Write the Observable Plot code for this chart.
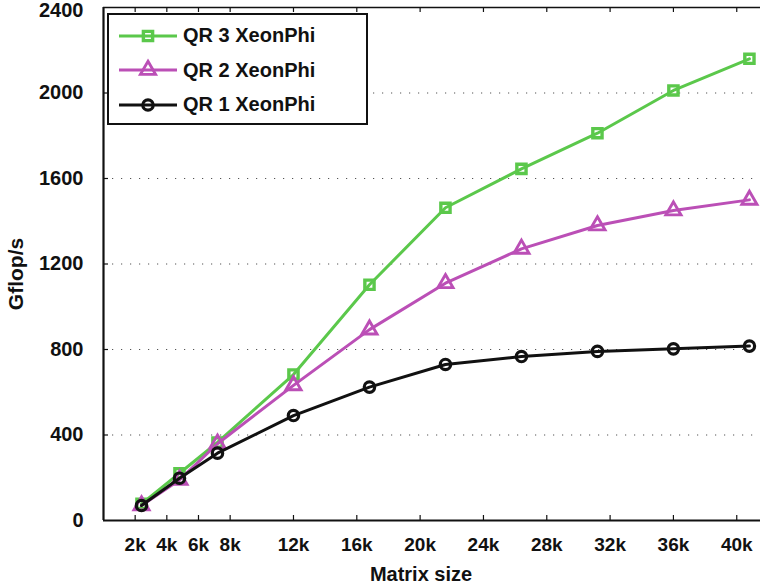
<!DOCTYPE html>
<html><head><meta charset="utf-8">
<script src="https://cdn.jsdelivr.net/npm/d3@7"></script>
<script src="https://cdn.jsdelivr.net/npm/@observablehq/plot@0.6"></script>
<style>
body{margin:0;background:#fff;}
#wrap{position:relative;width:760px;height:586px;font-family:"Liberation Sans",Arial,Helvetica,sans-serif;}
#legend{position:absolute;left:107px;top:13px;width:257px;height:108px;border:2px solid #111;background:#fff;}
.row{position:absolute;left:0;height:30px;display:flex;align-items:center;}
.row svg{display:block;margin-left:10px;}
.row span{font-size:20px;font-weight:bold;color:#111;margin-left:6px;white-space:nowrap;}
</style></head><body><div id="wrap"></div>
<script>
// ---- data ----
const sizes = [2400, 4800, 7200, 12000, 16800, 21600, 26400, 31200, 36000, 40800];
const qr3 = [78, 221, 365, 683, 1103, 1463, 1645, 1812, 2012, 2160];
const qr2 = [70, 190, 359, 632, 893, 1110, 1271, 1380, 1450, 1500];
const qr1 = [70, 198, 315, 491, 624, 730, 767, 791, 803, 816];
const seriesNames = ["QR 3 XeonPhi", "QR 2 XeonPhi", "QR 1 XeonPhi"];
const xTicks = [2000, 4000, 6000, 8000, 12000, 16000, 20000, 24000, 28000, 32000, 36000, 40000];
const xTickLabels = ["2k", "4k", "6k", "8k", "12k", "16k", "20k", "24k", "28k", "32k", "36k", "40k"];
const yTicks = [0, 400, 800, 1200, 1600, 2000];
const yTopTick = [2400];
const gridVals = [400, 800, 1200, 1600, 2000];

const seriesValues = [qr3, qr2, qr1];
const colors = ["#5bc84b", "#bb4fb6", "#111111"];
const symbols = ["square", "triangle", "circle"];
const symR = [5.2, 5.6, 5.2];
const symSW = [3.4, 2.9, 3.2];

const W = 760, H = 586, mL = 103, mR = 0, mT = 7, mB = 66;
const innerW = W - mL - mR, innerH = H - mT - mB;
const font = '"Liberation Sans", Arial, Helvetica, sans-serif';

const marks = [
  Plot.ruleY(gridVals, {y: d => d, stroke: "#555", strokeWidth: 1.2, strokeDasharray: "1.2,7.8"}),
  Plot.ruleY(yTopTick, {y: d => d, stroke: "#111", strokeWidth: 1.5}),
  Plot.tickX(xTicks, {x: d => d, insetTop: innerH - 5, stroke: "#111", strokeWidth: 1.2}),
  Plot.tickX(xTicks, {x: d => d, insetBottom: innerH - 5, stroke: "#111", strokeWidth: 1.2}),
  Plot.tickY(gridVals, {y: d => d, insetRight: innerW - 5, stroke: "#111", strokeWidth: 1.2}),
];
seriesValues.forEach((vals, i) => {
  const rows = sizes.map((s, j) => ({size: s, v: vals[j]}));
  marks.push(Plot.line(rows, {x: "size", y: "v", stroke: colors[i], strokeWidth: 3}));
  marks.push(Plot.dot(rows, {x: "size", y: "v", stroke: colors[i], strokeWidth: symSW[i], fill: "none", symbol: symbols[i], r: symR[i]}));
});
marks.push(
  Plot.ruleX([0], {x: d => d, stroke: "#111", strokeWidth: 2.2}),
  Plot.ruleY([0], {y: d => d, stroke: "#111", strokeWidth: 2.2}),
  Plot.axisX({ticks: xTicks, tickFormat: d => xTickLabels[xTicks.indexOf(d)], tickSize: 0, tickPadding: 17, label: null, fontSize: 19, fontWeight: "bold", fill: "#111"}),
  Plot.axisY({ticks: yTicks, tickFormat: d => String(d), tickSize: 0, tickPadding: 20, label: null, fontSize: 20, fontWeight: "bold", fill: "#111"}),
  Plot.axisY({ticks: yTopTick, tickFormat: d => String(d), tickSize: 0, tickPadding: 20, dy: 3, label: null, fontSize: 20, fontWeight: "bold", fill: "#111"}),
  Plot.text(["Gflop/s"], {text: d => d, frameAnchor: "left", textAnchor: "middle", dx: -87, dy: 10, rotate: -90, fontSize: 21, fontWeight: "bold", fill: "#111"}),
  Plot.text(["Matrix size"], {text: d => d, frameAnchor: "bottom", dx: -11, dy: 60, fontSize: 20, fontWeight: "bold", fill: "#111"})
);

const chart = Plot.plot({
  width: W, height: H,
  marginLeft: mL, marginRight: mR, marginTop: mT, marginBottom: mB,
  x: {domain: [0, 41500], label: null, axis: null},
  y: {domain: [0, 2400], label: null, axis: null},
  style: {fontFamily: font, fontSize: "19px", background: "white", overflow: "visible"},
  marks
});
const wrap = document.getElementById("wrap");
wrap.appendChild(chart);

// ---- legend ----
const legend = document.createElement("div");
legend.id = "legend";
seriesNames.forEach((name, i) => {
  const row = document.createElement("div");
  row.className = "row";
  row.style.top = (5.5 + 34.5 * i) + "px";
  const svg = d3.create("svg").attr("width", 58).attr("height", 30);
  svg.append("line").attr("x1", 0).attr("x2", 58).attr("y1", 15).attr("y2", 15)
    .attr("stroke", colors[i]).attr("stroke-width", 3);
  const symType = {square: d3.symbolSquare, triangle: d3.symbolTriangle, circle: d3.symbolCircle}[symbols[i]];
  svg.append("path").attr("transform", "translate(29,15)")
    .attr("d", d3.symbol(symType, Math.PI * symR[i] * symR[i])())
    .attr("fill", "none").attr("stroke", colors[i]).attr("stroke-width", symSW[i]);
  row.appendChild(svg.node());
  const span = document.createElement("span");
  span.textContent = name;
  row.appendChild(span);
  legend.appendChild(row);
});
wrap.appendChild(legend);
</script>
</body></html>
